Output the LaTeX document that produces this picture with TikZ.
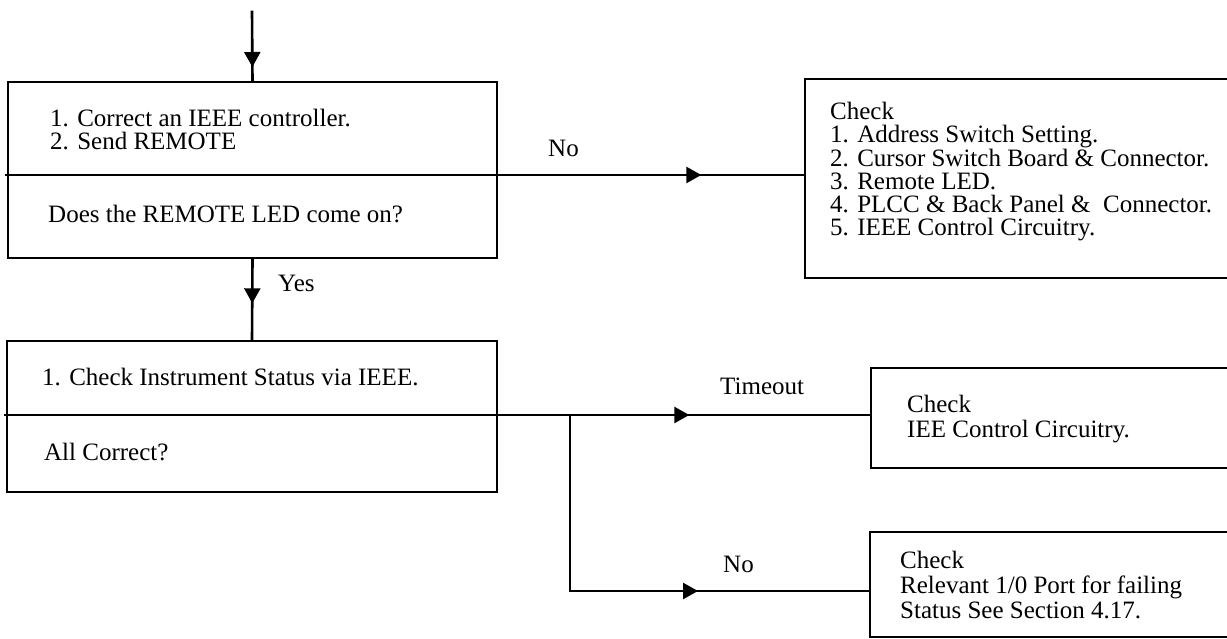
\documentclass[tikz,border=0pt]{standalone}
\usepackage{fontspec}
\setmainfont{Liberation Serif}
\usetikzlibrary{arrows.meta,decorations.markings}

\tikzset{
  flow/.style={line width=2.6pt, line cap=rect},
  box/.style={draw, line width=2.6pt, rectangle, inner sep=0pt, anchor=center},
  % multi-line texts are placed by the baseline of their last line
  txt/.style={inner sep=0pt, anchor=base west, align=left,
              font=\fontsize{25}{23.3}\selectfont},
  lbl/.style={inner sep=0pt, anchor=base west,
              font=\fontsize{25}{24}\selectfont},
  tipat/.style={postaction={decorate, decoration={markings,
      mark=at position #1 with {\arrow{Triangle[length=15pt,width=16pt]}}}}}
}

\begin{document}
\begin{tikzpicture}[x=1pt, y=-1pt]
\useasboundingbox (0,0) rectangle (1227,639);

% decision boxes on the left
\node[box, minimum width=489pt, minimum height=176pt] (b1) at (252.5,170) {};
\node[box, minimum width=490pt, minimum height=151pt] (b2) at (252,416.5) {};

% result boxes on the right
\node[box, minimum width=435pt, minimum height=199pt] (c1) at (1022.5,178.5) {};
\node[box, minimum width=369pt, minimum height=100pt] (c2) at (1055.5,418) {};
\node[box, minimum width=370pt, minimum height=105pt] (c3) at (1055,584.5) {};

% levels of the dividers / outgoing lines
\coordinate (d1) at (0,175);
\coordinate (d2) at (0,415);
\coordinate (start) at (252,12);
\coordinate (fork) at (570,415);
\coordinate (bend) at (570,591);

% dividers
\draw[flow] (b1.west |- d1) -- (b1.east |- d1);
\draw[flow] (b2.west |- d2) -- (b2.east |- d2);

% connectors
\draw[flow, tipat=55pt] (start) -- (b1.north);
\draw[flow, tipat=44pt] (b1.south) -- (b2.north);
\draw[flow, tipat=203pt] (b1.east |- d1) -- (c1.west |- d1);
\draw[flow, tipat=191pt] (b2.east |- d2) -- (c2.west |- d2);
\draw[flow, tipat=304pt] (fork) -- (bend) -- (c3.west |- bend);

% box texts
\node[txt] (t1) at (50,150) {1. Correct an IEEE controller.\\2. Send REMOTE};
\node[txt] (t2) at (48,223) {Does the REMOTE LED come on?};
\node[txt] (t3) at (42,385) {1. Check Instrument Status via IEEE.};
\node[txt] (t4) at (44,460) {All Correct?};
\node[txt] (t5) at (830,236) {Check\\1. Address Switch Setting.\\2. Cursor Switch Board \& Connector.\\3. Remote LED.\\4. PLCC \& Back Panel \&\ \ Connector.\\5. IEEE Control Circuitry.};
\node[txt, font=\fontsize{25}{25}\selectfont] (t6) at (907,437) {Check\\IEE Control Circuitry.};
\node[txt, font=\fontsize{25}{25}\selectfont] (t7) at (900,618) {Check\\Relevant 1/0 Port for failing\\Status See Section 4.17.};

% branch labels
\node[lbl] (l1) at (548,157) {No};
\node[lbl] (l2) at (278,292) {Yes};
\node[lbl] (l3) at (720,394) {Timeout};
\node[lbl] (l4) at (723,572) {No};
\end{tikzpicture}
\end{document}
